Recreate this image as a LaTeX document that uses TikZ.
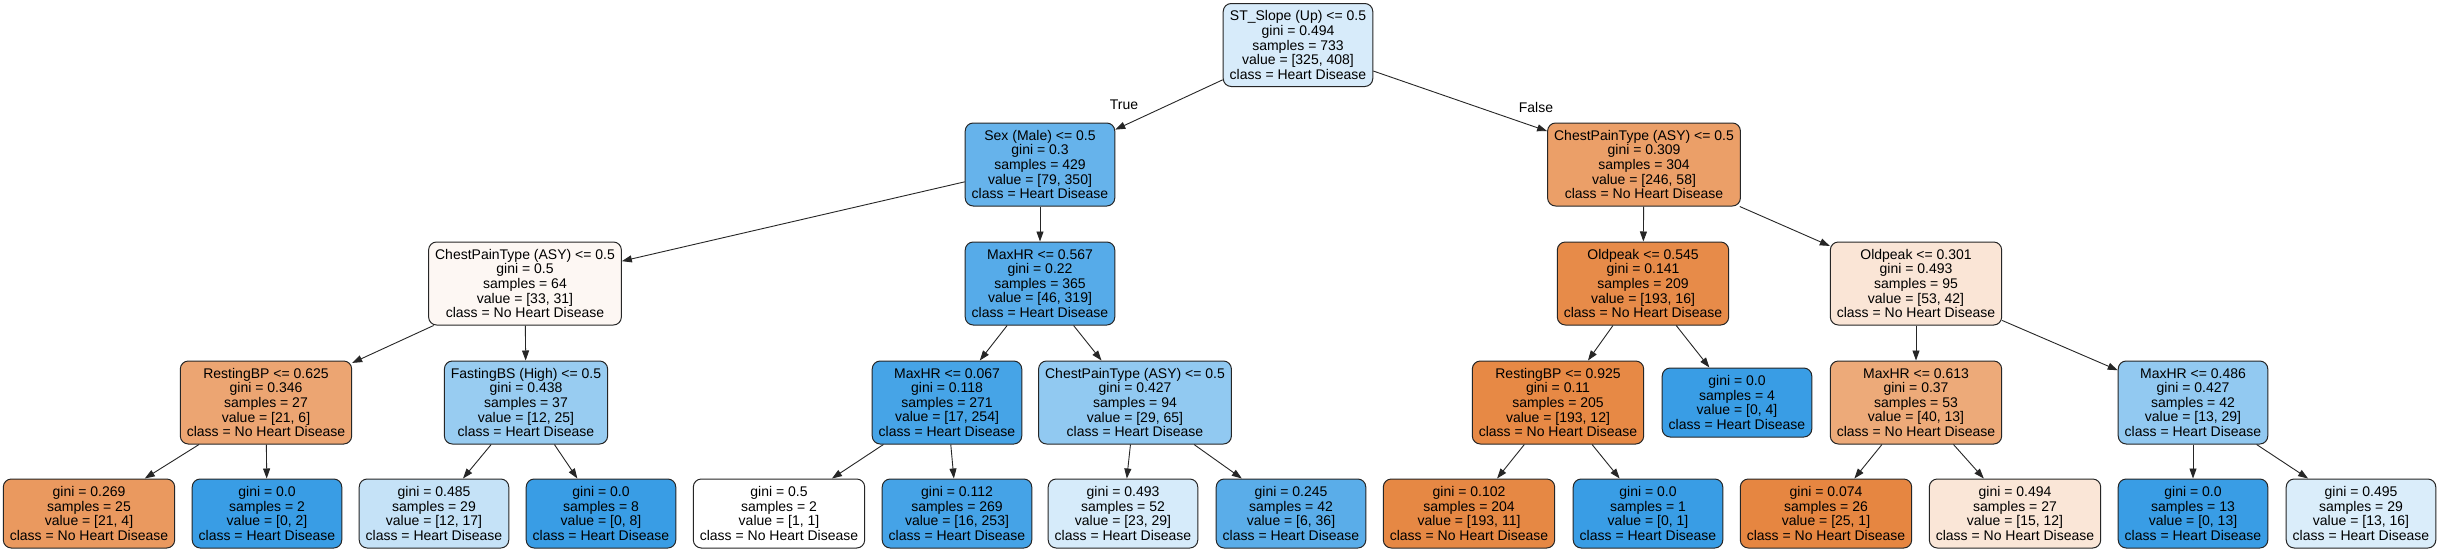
\documentclass[tikz,border=0pt]{standalone}
\usepackage{fontspec}
\setmainfont{Liberation Sans}
\usetikzlibrary{arrows.meta}
\definecolor{nhd}{RGB}{229,129,57}
\definecolor{hd}{RGB}{57,157,229}
\tikzset{
  tnode/.style={draw=black!85, line width=1pt, rounded corners=8pt, align=center,
    inner xsep=6.5pt, inner ysep=0pt,
    font=\fontsize{14}{14.6}\selectfont},
  dnode/.style={tnode, minimum height=83pt},
  lnode/.style={tnode, minimum height=69pt},
  edge/.style={draw=black!85, line width=0.9pt, -{Triangle[length=10pt,width=7pt]}},
  elabel/.style={font=\fontsize{14}{14.6}\selectfont, inner sep=0pt}
}
\begin{document}
\begin{tikzpicture}[x=1pt,y=-1pt]
\useasboundingbox[fill=white] (0,0) rectangle (2437,552);
% level 0
\node[dnode, fill=hd!20.3!white] (root) at (1298,45) {ST\_Slope (Up) <= 0.5\\gini = 0.494\\samples = 733\\value = [325, 408]\\class = Heart Disease};
% level 1
\node[dnode, fill=hd!77.4!white] (sex) at (1040,164.5) {Sex (Male) <= 0.5\\gini = 0.3\\samples = 429\\value = [79, 350]\\class = Heart Disease};
\node[dnode, fill=nhd!76.4!white] (cpr) at (1644,164.5) {ChestPainType (ASY) <= 0.5\\gini = 0.309\\samples = 304\\value = [246, 58]\\class = No Heart Disease};
% level 2
\node[dnode, fill=nhd!6.1!white] (cpl) at (525,283.5) {ChestPainType (ASY) <= 0.5\\gini = 0.5\\samples = 64\\value = [33, 31]\\class = No Heart Disease};
\node[dnode, fill=hd!85.6!white] (mhra) at (1040,283.5) {MaxHR <= 0.567\\gini = 0.22\\samples = 365\\value = [46, 319]\\class = Heart Disease};
\node[dnode, fill=nhd!91.7!white] (opa) at (1643,283.5) {Oldpeak <= 0.545\\gini = 0.141\\samples = 209\\value = [193, 16]\\class = No Heart Disease};
\node[dnode, fill=nhd!20.8!white] (opb) at (1916,283.5) {Oldpeak <= 0.301\\gini = 0.493\\samples = 95\\value = [53, 42]\\class = No Heart Disease};
% level 3
\node[dnode, fill=nhd!71.4!white] (rbpa) at (266,402.5) {RestingBP <= 0.625\\gini = 0.346\\samples = 27\\value = [21, 6]\\class = No Heart Disease};
\node[dnode, fill=hd!52!white] (fbs) at (526,402.5) {FastingBS (High) <= 0.5\\gini = 0.438\\samples = 37\\value = [12, 25]\\class = Heart Disease};
\node[dnode, fill=hd!93.3!white] (mhrb) at (947,402.5) {MaxHR <= 0.067\\gini = 0.118\\samples = 271\\value = [17, 254]\\class = Heart Disease};
\node[dnode, fill=hd!55.4!white] (cpm) at (1135,402.5) {ChestPainType (ASY) <= 0.5\\gini = 0.427\\samples = 94\\value = [29, 65]\\class = Heart Disease};
\node[dnode, fill=nhd!93.8!white] (rbpb) at (1558,402.5) {RestingBP <= 0.925\\gini = 0.11\\samples = 205\\value = [193, 12]\\class = No Heart Disease};
\node[lnode, fill=hd] (lfour) at (1737,402.5) {gini = 0.0\\samples = 4\\value = [0, 4]\\class = Heart Disease};
\node[dnode, fill=nhd!67.5!white] (mhrc) at (1916,402.5) {MaxHR <= 0.613\\gini = 0.37\\samples = 53\\value = [40, 13]\\class = No Heart Disease};
\node[dnode, fill=hd!55.2!white] (mhrd) at (2193,402.5) {MaxHR <= 0.486\\gini = 0.427\\samples = 42\\value = [13, 29]\\class = Heart Disease};
% level 4 leaves
\node[lnode, fill=nhd!81!white] (la) at (89,513.5) {gini = 0.269\\samples = 25\\value = [21, 4]\\class = No Heart Disease};
\node[lnode, fill=hd] (lb) at (267,513.5) {gini = 0.0\\samples = 2\\value = [0, 2]\\class = Heart Disease};
\node[lnode, fill=hd!29.4!white] (lc) at (434,513.5) {gini = 0.485\\samples = 29\\value = [12, 17]\\class = Heart Disease};
\node[lnode, fill=hd] (ld) at (601,513.5) {gini = 0.0\\samples = 8\\value = [0, 8]\\class = Heart Disease};
\node[lnode, fill=white] (le) at (779,513.5) {gini = 0.5\\samples = 2\\value = [1, 1]\\class = No Heart Disease};
\node[lnode, fill=hd!93.7!white] (lf) at (957,513.5) {gini = 0.112\\samples = 269\\value = [16, 253]\\class = Heart Disease};
\node[lnode, fill=hd!20.7!white] (lg) at (1123,513.5) {gini = 0.493\\samples = 52\\value = [23, 29]\\class = Heart Disease};
\node[lnode, fill=hd!83.3!white] (lh) at (1291,513.5) {gini = 0.245\\samples = 42\\value = [6, 36]\\class = Heart Disease};
\node[lnode, fill=nhd!94.3!white] (li) at (1469,513.5) {gini = 0.102\\samples = 204\\value = [193, 11]\\class = No Heart Disease};
\node[lnode, fill=hd] (lj) at (1648,513.5) {gini = 0.0\\samples = 1\\value = [0, 1]\\class = Heart Disease};
\node[lnode, fill=nhd!96!white] (lk) at (1826,513.5) {gini = 0.074\\samples = 26\\value = [25, 1]\\class = No Heart Disease};
\node[lnode, fill=nhd!20!white] (ll) at (2015,513.5) {gini = 0.494\\samples = 27\\value = [15, 12]\\class = No Heart Disease};
\node[lnode, fill=hd] (lm) at (2193,513.5) {gini = 0.0\\samples = 13\\value = [0, 13]\\class = Heart Disease};
\node[lnode, fill=hd!18.75!white] (ln) at (2361,513.5) {gini = 0.495\\samples = 29\\value = [13, 16]\\class = Heart Disease};
% edge labels
\node[elabel] (ltrue) at (1124,105) {True};
\node[elabel] (lfalse) at (1536,107) {False};
% edges
\draw[edge] (root) -- (sex);
\draw[edge] (root) -- (cpr);
\draw[edge] (sex) -- (cpl);
\draw[edge] (sex) -- (mhra);
\draw[edge] (cpr) -- (opa);
\draw[edge] (cpr) -- (opb);
\draw[edge] (cpl) -- (rbpa);
\draw[edge] (cpl) -- (fbs);
\draw[edge] (mhra) -- (mhrb);
\draw[edge] (mhra) -- (cpm);
\draw[edge] (opa) -- (rbpb);
\draw[edge] (opa) -- (lfour);
\draw[edge] (opb) -- (mhrc);
\draw[edge] (opb) -- (mhrd);
\draw[edge] (rbpa) -- (la);
\draw[edge] (rbpa) -- (lb);
\draw[edge] (fbs) -- (lc);
\draw[edge] (fbs) -- (ld);
\draw[edge] (mhrb) -- (le);
\draw[edge] (mhrb) -- (lf);
\draw[edge] (cpm) -- (lg);
\draw[edge] (cpm) -- (lh);
\draw[edge] (rbpb) -- (li);
\draw[edge] (rbpb) -- (lj);
\draw[edge] (mhrc) -- (lk);
\draw[edge] (mhrc) -- (ll);
\draw[edge] (mhrd) -- (lm);
\draw[edge] (mhrd) -- (ln);
\end{tikzpicture}
\end{document}
